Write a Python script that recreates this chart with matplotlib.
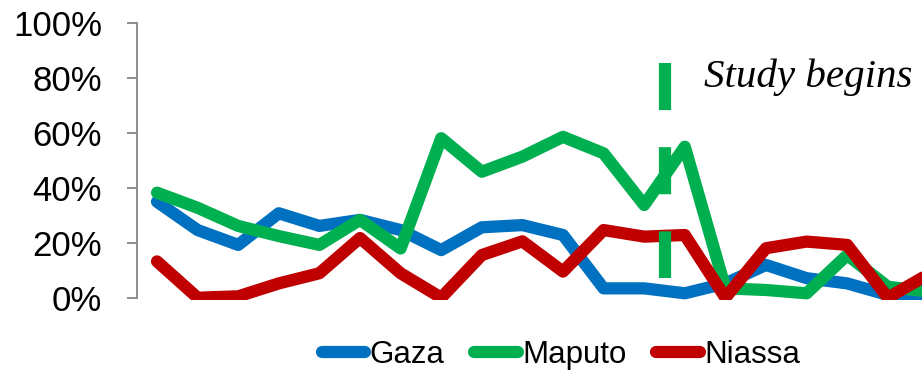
import matplotlib.pyplot as plt
import numpy as np

# share of positive results per period (%)
gaza = [34.9, 24.6, 19.2, 30.7, 26.1, 28.3, 24.6, 17.3, 25.6, 26.4,
        22.8, 3.4, 3.4, 1.6, 5.2, 11.9, 7.1, 5.2, 1.0, 1.0]
maputo = [38.2, 32.7, 26.1, 22.4, 19.2, 28.3, 17.9, 58.0, 45.8, 51.3,
          58.5, 52.5, 33.7, 54.9, 3.4, 2.8, 1.6, 15.5, 4.0, 2.2]
niassa = [13.2, 0.0, 0.5, 5.2, 8.9, 21.7, 8.9, 0.0, 15.5, 20.5,
          9.5, 24.6, 22.2, 22.8, 0.0, 18.0, 20.4, 19.2, 0.0, 8.5]
series = ['Gaza', 'Maputo', 'Niassa']
colors = ['#0070C0', '#00B050', '#C00000']

# "Study begins" marker (between periods 13 and 14)
study_x = 12.5
study_y = (7.2, 85.3)
yticks = [0, 20, 40, 60, 80, 100]

W, H = 922, 381
fig = plt.figure(figsize=(W / 100, H / 100), dpi=100)
# plot area: left spine at x=137, 0% at y=298, 100% at y=23, 40.6 px per period
left, y0, y100, step = 136.7, 297.7, 22.7, 40.6
clip = 2.3
n = len(gaza)
ax = fig.add_axes([left / W, (H - y0 - clip) / H, n * step / W, (y0 + clip - y100) / H])
ax.set_xlim(-0.5, n - 0.5)
pct_per_px = 100 / (y0 - y100)
ax.set_ylim(-clip * pct_per_px, 100)

lw = 8.8
x = np.arange(n)
for name, vals, c in zip(series, [gaza, maputo, niassa], colors):
    ax.plot(x, vals, color=c, lw=lw, solid_capstyle='round',
            solid_joinstyle='round', label=name)

ax.plot([study_x, study_x], [study_y[1], study_y[0]], color='#00B050', lw=lw,
        linestyle=(0, (47 / 12.2, 37 / 12.2)), dash_capstyle='butt')
ax.text(study_x + 0.98, 76.6, 'Study begins', family='Liberation Serif',
        style='italic', fontsize=29.5, color='black', va='baseline', ha='left')

for s in ['top', 'right', 'bottom']:
    ax.spines[s].set_visible(False)
ax.spines['left'].set_color('#868686')
ax.spines['left'].set_linewidth(1.3)
ax.spines['left'].set_bounds(0, 100)
ax.set_yticks(yticks)
ax.set_yticklabels(['%d%%' % v for v in yticks], family='Liberation Sans', fontsize=25)
ax.tick_params(axis='y', length=7, width=1.3, color='#868686', pad=18)
ax.set_xticks([])

fig.legend(loc='center', bbox_to_anchor=(561 / W, 1 - 355 / H), ncol=3, frameon=False,
           prop={'family': 'Liberation Sans', 'size': 22.5}, handlelength=1.4,
           handletextpad=0.14, columnspacing=0.95, borderpad=0)

fig.savefig('out.png', dpi=100)
